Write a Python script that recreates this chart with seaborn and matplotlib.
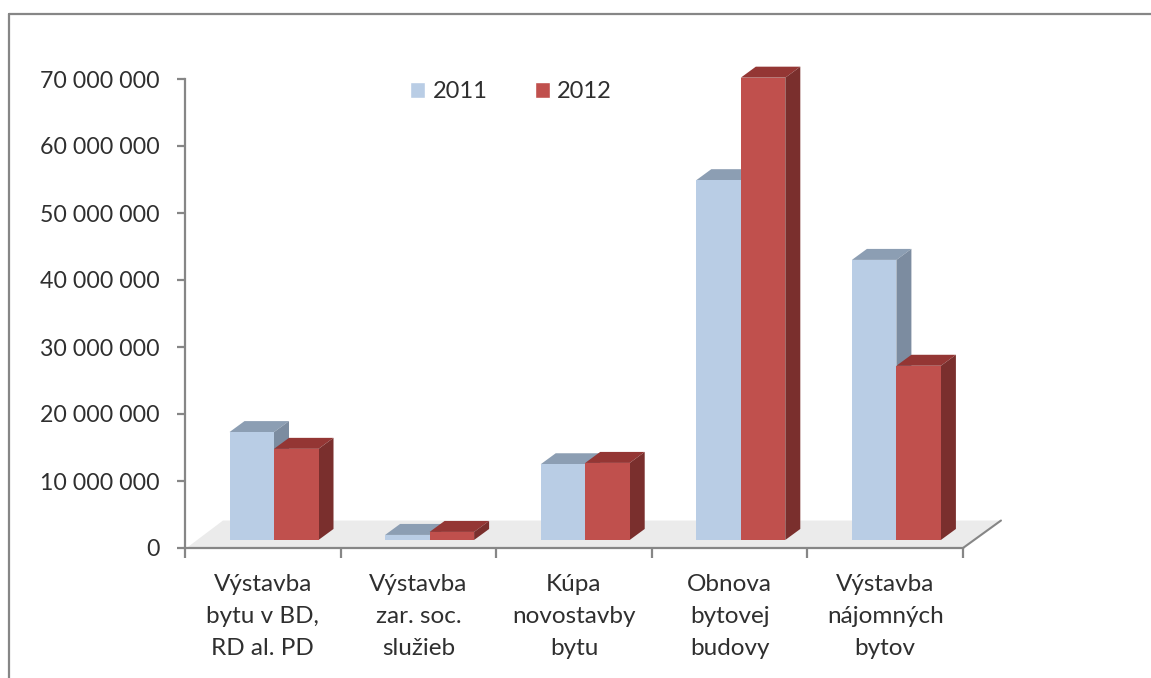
import numpy as np
import pandas as pd
import seaborn as sns
import matplotlib.pyplot as plt
from matplotlib.lines import Line2D
from matplotlib.patches import Polygon
from matplotlib.ticker import FuncFormatter

# --- data ---
kategorie = ['Výstavba\nbytu v BD,\nRD al. PD', 'Výstavba\nzar. soc.\nslužieb', 'Kúpa\nnovostavby\nbytu',
             'Obnova\nbytovej\nbudovy', 'Výstavba\nnájomných\nbytov']
hodnoty_2011 = [16100000, 750000, 11300000, 53700000, 41800000]
hodnoty_2012 = [13600000, 1200000, 11500000, 69000000, 26000000]
roky = ['2011', '2012']
y_ticks = [0, 10000000, 20000000, 30000000, 40000000, 50000000, 60000000, 70000000]

# --- style ---
W, H = 1151, 678
sns.set_theme(style='white')
plt.rcParams['font.family'] = ['Lato', 'DejaVu Sans']
sivá = '#868686'
text_col = '#2f2f2f'
farby = {'2011': '#B9CDE5', '2012': '#C0504D'}
farby_top = {'2011': '#8C9EB3', '2012': '#943634'}
farby_side = {'2011': '#7C8CA0', '2012': '#7A2F2D'}

df = pd.DataFrame({
    'kategoria': kategorie * 2,
    'rok': ['2011'] * 5 + ['2012'] * 5,
    'hodnota': hodnoty_2011 + hodnoty_2012,
})

fig = plt.figure(figsize=(W / 100, H / 100), dpi=100)
ax = fig.add_axes([185 / W, 1 - 548 / H, (963 - 185) / W, (548 - 79) / H])

sns.barplot(data=df, x='kategoria', y='hodnota', hue='rok', order=kategorie, hue_order=roky,
            palette=farby, width=0.572, gap=0, saturation=1, errorbar=None, ax=ax)

# the group sits a bit right of the category centre, like the Excel 3D chart
posun = 0.072
ax.set_xlim(-0.5 - posun, 4.5 - posun)
ax.set_ylim(0, 70000000)

# --- fake 3D faces ---
dno = 1200000     # front edge of the floor under the bars
dx = 0.0964
dy = 1640000
for k, (rok, kont) in enumerate(zip(roky, ax.containers)):
    for p in kont:
        v = p.get_height()
        p.set_y(dno)
        p.set_clip_on(False)
        p.set_linewidth(0)
        p.set_zorder(3 + 2 * k + 0.5)
        x0, x1 = p.get_x(), p.get_x() + p.get_width()
        top = dno + v
        ax.add_patch(Polygon([(x0, top), (x1, top), (x1 + dx, top + dy), (x0 + dx, top + dy)],
                             fc=farby_top[rok], lw=0, clip_on=False, zorder=3 + 2 * k))
        ax.add_patch(Polygon([(x1, dno), (x1 + dx, dno + dy), (x1 + dx, top + dy), (x1, top)],
                             fc=farby_side[rok], lw=0, clip_on=False, zorder=3 + 2 * k))

# floor
xl, xr = ax.get_xlim()
ax.add_patch(Polygon([(xl + 0.01, 0), (xr, 0), (xr + 0.244, 4100000), (xl + 0.244, 4100000)],
                     fc='#EBEBEB', lw=0, clip_on=False, zorder=1))
ax.plot([xr, xr + 0.244], [0, 4100000], color=sivá, lw=1.5, clip_on=False, zorder=2)

# --- axes ---
sns.despine(ax=ax, top=True, right=True)
for s in ['left', 'bottom']:
    ax.spines[s].set_color(sivá)
    ax.spines[s].set_linewidth(1.6)
ax.set_xlabel('')
ax.set_ylabel('')
ax.set_yticks(y_ticks)
ax.yaxis.set_major_formatter(FuncFormatter(lambda v, _: f'{int(v):,}'.replace(',', ' ')))
ax.tick_params(axis='y', left=True, length=6, width=1.6, color=sivá, labelsize=16.7, labelcolor=text_col, pad=12)

ax.set_xticks(np.arange(5) - posun, kategorie)
ax.set_xticks(np.arange(6) - 0.5 - posun, minor=True)
ax.tick_params(axis='x', which='major', bottom=False, labelsize=17.5, labelcolor=text_col, pad=13)
ax.tick_params(axis='x', which='minor', bottom=True, length=7, width=1.6, color=sivá)
for t in ax.get_xticklabels():
    t.set_linespacing(1.65)

# --- legend ---
ax.legend(loc='center', bbox_to_anchor=((511 - 185) / 778, 1 - 13 / 469), ncols=2, frameon=False,
          fontsize=17, labelcolor=text_col, handlelength=0.65, handleheight=0.65, handletextpad=0.3,
          columnspacing=2.0, title=None)

# --- outer frame of the screenshot ---
for xs, ys in [([9, W], [14, 14]), ([9, 9], [14, H])]:
    fig.add_artist(Line2D([x / W for x in xs], [1 - y / H for y in ys], color=sivá, lw=1.6))

fig.savefig('out.png', dpi=100)
